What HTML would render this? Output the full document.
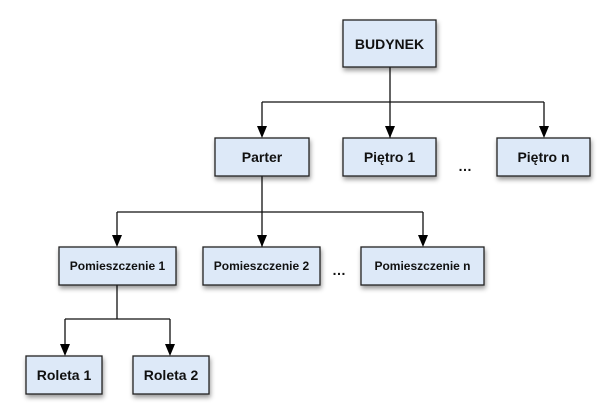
<!DOCTYPE html>
<html><head><meta charset="utf-8"><style>
body{margin:0;background:#fff;}
svg{display:block}
text{font-family:"Liberation Sans",Arial,sans-serif;font-weight:bold;fill:#111;text-anchor:middle;dominant-baseline:central}
.b{fill:#dde9f8;stroke:#222;stroke-width:1.3;filter:url(#sh)}
.l{stroke:#111;stroke-width:1.3;fill:none}
</style></head><body>
<svg width="612" height="419" viewBox="0 0 612 419">
<defs>
<filter id="sh" x="-20%" y="-20%" width="150%" height="170%"><feDropShadow dx="1" dy="3" stdDeviation="2.5" flood-color="#000" flood-opacity="0.4"/></filter>
<marker id="a" markerWidth="10" markerHeight="12" refX="5" refY="11" orient="auto-start-reverse" markerUnits="userSpaceOnUse"><path d="M0,0 L10,0 L5,11 Z" fill="#111" transform="rotate(0)"/></marker>
</defs>
<!-- connectors -->
<path class="l" d="M390,67 V138"/>
<path class="l" d="M262,102 H544"/>
<path class="l" d="M262,102 V127"/><path d="M257,126 L267,126 L262,138 Z"/>
<path d="M385,126 L395,126 L390,138 Z"/>
<path class="l" d="M544,102 V127"/><path d="M539,126 L549,126 L544,138 Z"/>
<path class="l" d="M262,176 V247"/>
<path class="l" d="M117,212 H423"/>
<path class="l" d="M117,212 V236"/><path d="M112,235 L122,235 L117,247 Z"/>
<path d="M257,235 L267,235 L262,247 Z"/>
<path class="l" d="M423,212 V236"/><path d="M418,235 L428,235 L423,247 Z"/>
<path class="l" d="M117,285 V319 M65,319 H170 M65,319 V345 M170,319 V345"/>
<path d="M60,344 L70,344 L65,356 Z"/><path d="M165,344 L175,344 L170,356 Z"/>
<!-- boxes -->
<rect class="b" x="343" y="20" width="93" height="47"/><text x="389.5" y="44" font-size="14">BUDYNEK</text>
<rect class="b" x="215" y="138" width="94" height="38"/><text x="262" y="157" font-size="14">Parter</text>
<rect class="b" x="343" y="138" width="93" height="38"/><text x="389.5" y="157" font-size="14">Piętro 1</text>
<rect class="b" x="497" y="138" width="93" height="38"/><text x="543.5" y="157" font-size="14">Piętro n</text>
<text x="465" y="166" font-size="14">…</text>
<rect class="b" x="59" y="247" width="117" height="38"/><text x="117.5" y="266" font-size="12">Pomieszczenie 1</text>
<rect class="b" x="203" y="247" width="117" height="38"/><text x="261.5" y="266" font-size="12">Pomieszczenie 2</text>
<rect class="b" x="361" y="247" width="123" height="38"/><text x="422.5" y="266" font-size="12">Pomieszczenie n</text>
<text x="339" y="270" font-size="14">…</text>
<rect class="b" x="26" y="356" width="76" height="38"/><text x="64" y="375" font-size="14">Roleta 1</text>
<rect class="b" x="133" y="356" width="76" height="38"/><text x="171" y="375" font-size="14">Roleta 2</text>
</svg>
</body></html>
